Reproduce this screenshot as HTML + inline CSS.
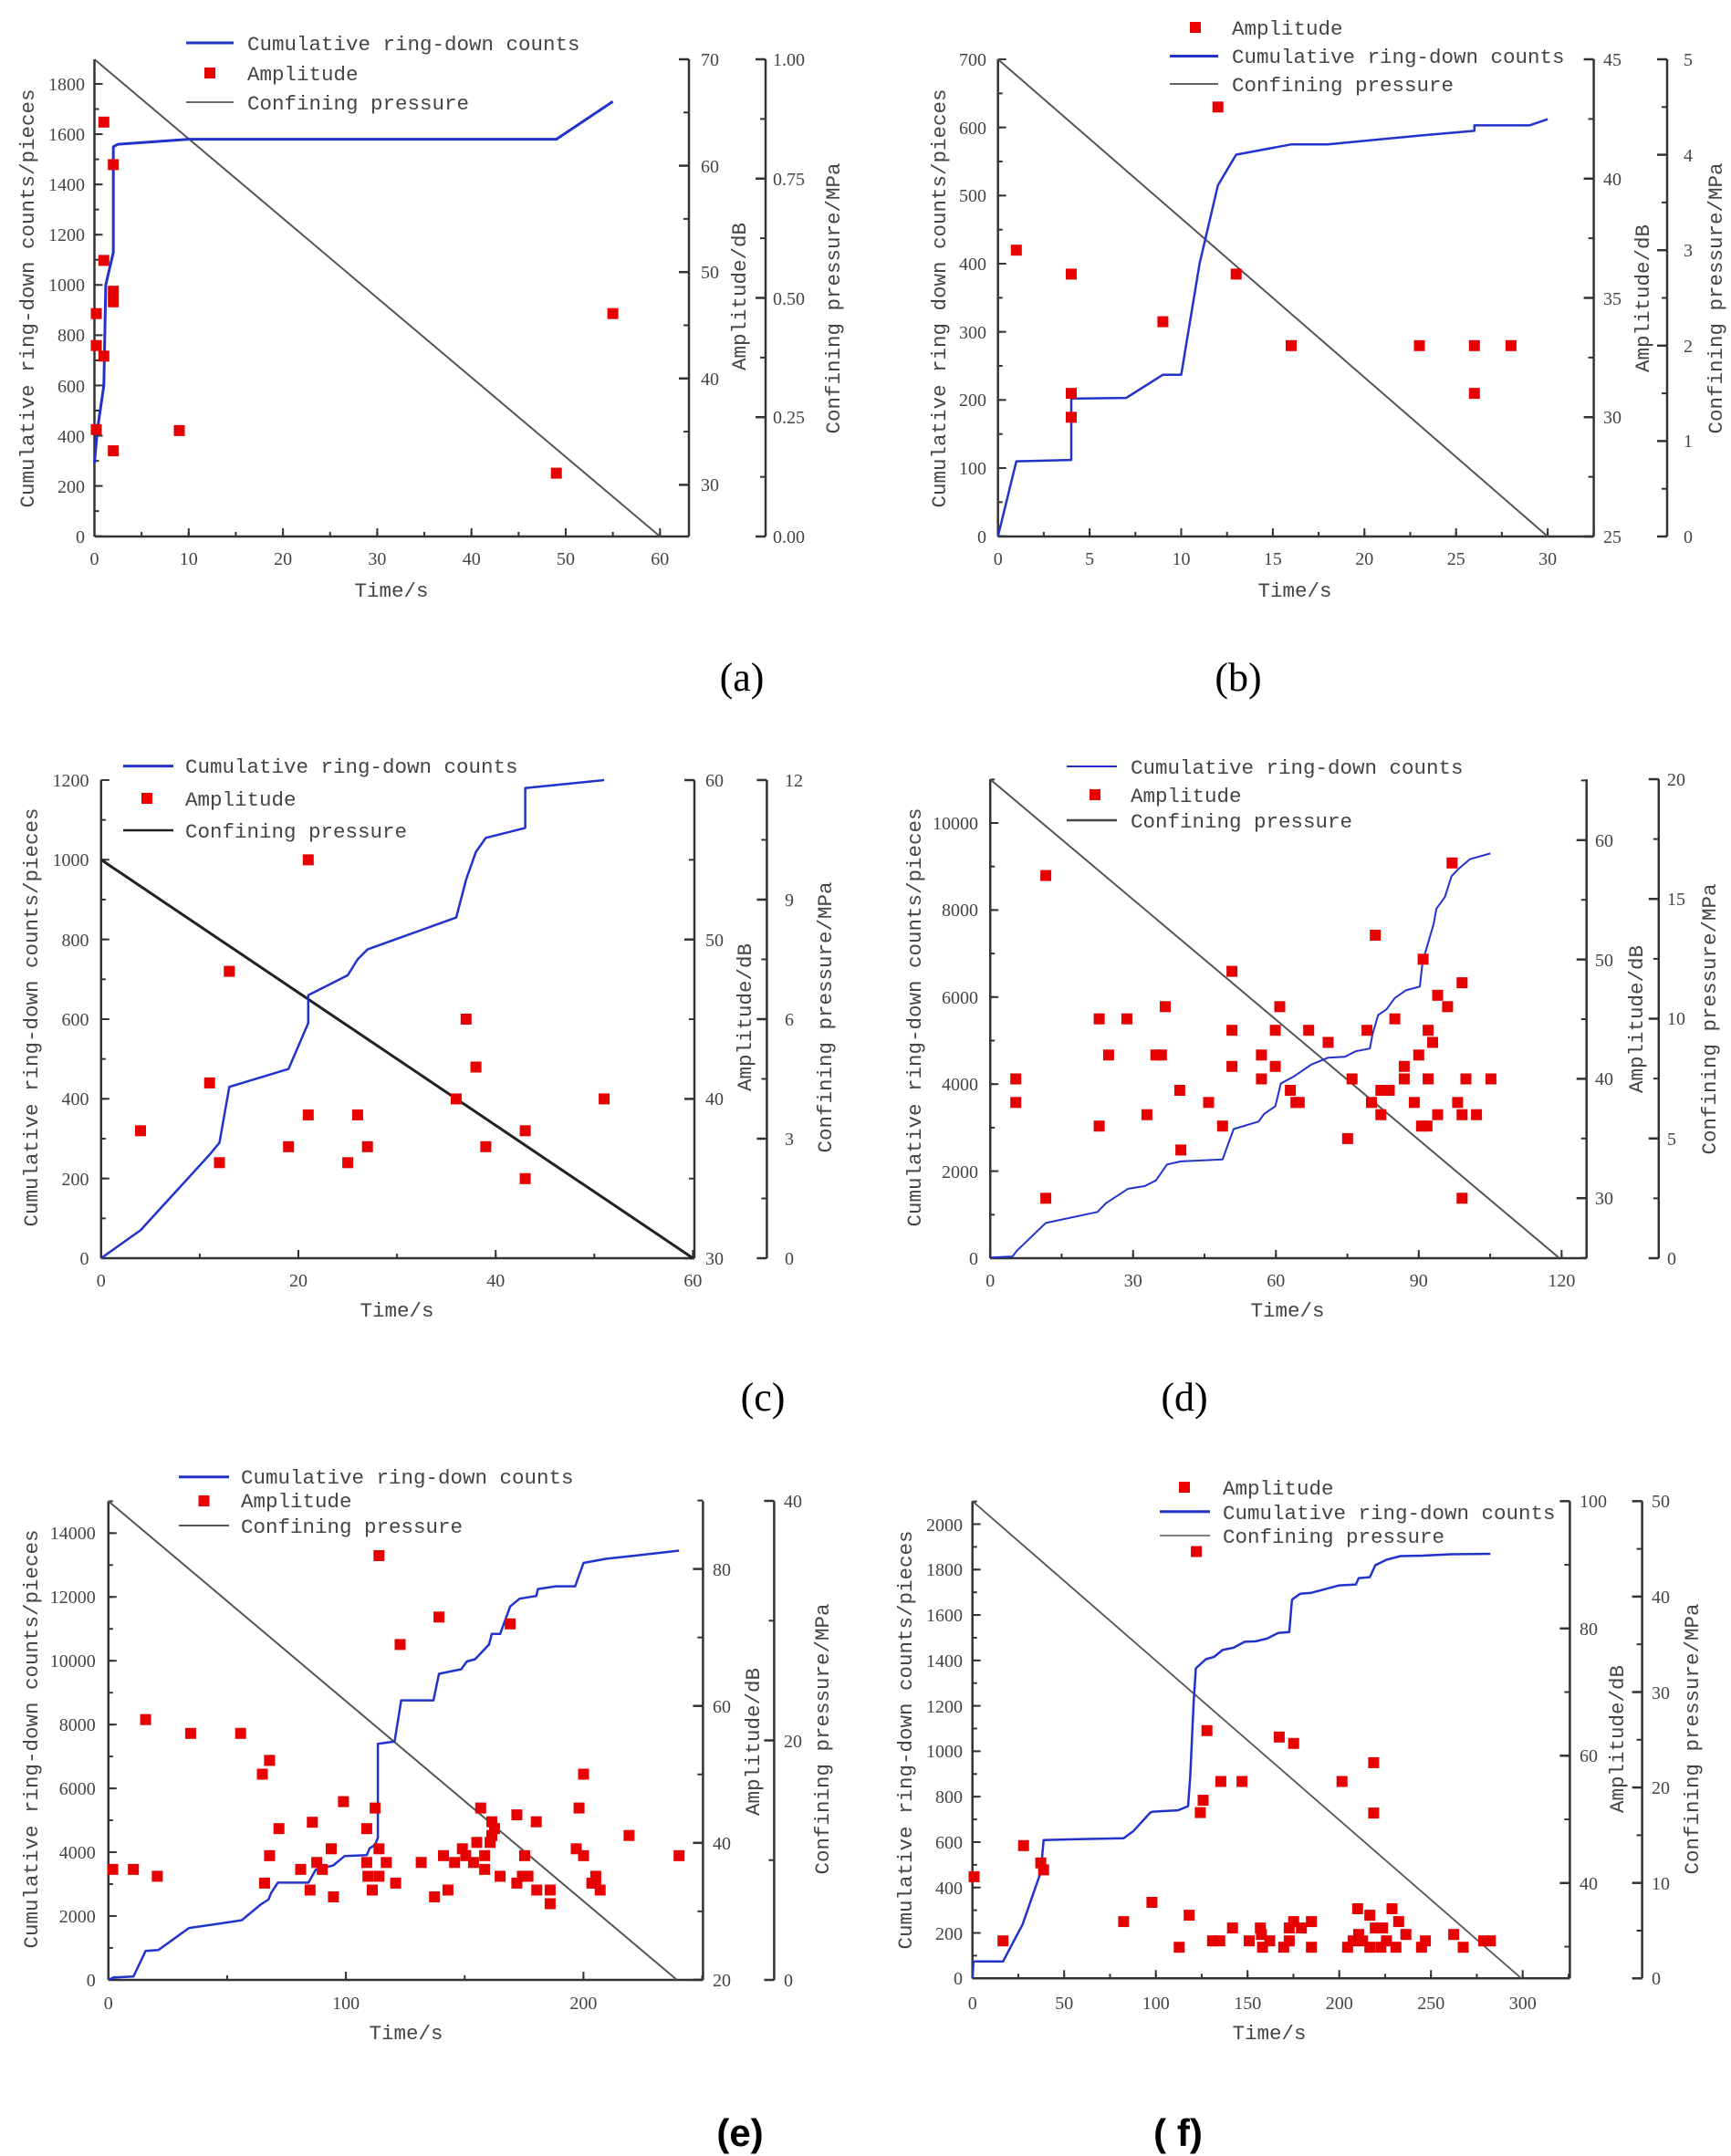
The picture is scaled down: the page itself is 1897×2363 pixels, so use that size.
<!DOCTYPE html>
<html><head><meta charset="utf-8">
<style>
html,body{margin:0;padding:0;background:#fff;}
svg{display:block;}
.t{font-family:"Liberation Serif",serif;font-size:20px;fill:#444;}
.m{font-family:"Liberation Mono",monospace;font-size:22.5px;fill:#444;}
.cap{font-family:"Liberation Serif",serif;font-size:44px;fill:#000;}
.capb{font-family:"Liberation Sans","Noto Sans CJK SC",sans-serif;font-size:42px;font-weight:bold;fill:#000;}
</style></head>
<body>
<svg id="s" width="1897" height="2363" xmlns="http://www.w3.org/2000/svg">
<rect width="1897" height="2363" fill="#fff"/>
<g id="g"></g>

<!-- Panel a text -->
<g class="t" text-anchor="end">
<text x="93" y="595">0</text><text x="93" y="540">200</text><text x="93" y="485">400</text><text x="93" y="430">600</text><text x="93" y="374">800</text><text x="93" y="319">1000</text><text x="93" y="264">1200</text><text x="93" y="209">1400</text><text x="93" y="154">1600</text><text x="93" y="99">1800</text>
</g>
<g class="t" text-anchor="middle">
<text x="103.5" y="619">0</text><text x="206.8" y="619">10</text><text x="310.1" y="619">20</text><text x="413.4" y="619">30</text><text x="516.7" y="619">40</text><text x="620" y="619">50</text><text x="723.3" y="619">60</text>
</g>
<g class="t">
<text x="768" y="72">70</text><text x="768" y="189">60</text><text x="768" y="305">50</text><text x="768" y="422">40</text><text x="768" y="538">30</text>
<text x="847" y="595">0.00</text><text x="847" y="464">0.25</text><text x="847" y="334">0.50</text><text x="847" y="203">0.75</text><text x="847" y="72">1.00</text>
</g>
<g class="m" text-anchor="middle">
<text transform="translate(37,327) rotate(-90)">Cumulative ring-down counts/pieces</text>
<text x="429" y="654">Time/s</text>
<text transform="translate(817,325) rotate(-90)">Amplitude/dB</text>
<text transform="translate(920,327) rotate(-90)">Confining pressure/MPa</text>
</g>
<g class="m"><text x="271" y="55">Cumulative ring-down counts</text><text x="271" y="88">Amplitude</text><text x="271" y="120">Confining pressure</text></g>
<line x1="204" y1="47" x2="256" y2="47" stroke="#2233cc" stroke-width="3"/>
<rect x="224" y="74" width="12" height="12" fill="#e00"/>
<line x1="204" y1="112" x2="256" y2="112" stroke="#666" stroke-width="2"/>
<text class="cap" x="813" y="757" text-anchor="middle">(a)</text>

<!-- Panel b text -->
<g class="t" text-anchor="end">
<text x="1081" y="595">0</text><text x="1081" y="520">100</text><text x="1081" y="445">200</text><text x="1081" y="371">300</text><text x="1081" y="296">400</text><text x="1081" y="221">500</text><text x="1081" y="147">600</text><text x="1081" y="72">700</text>
</g>
<g class="t" text-anchor="middle">
<text x="1093.7" y="619">0</text><text x="1194.1" y="619">5</text><text x="1294.5" y="619">10</text><text x="1394.9" y="619">15</text><text x="1495.3" y="619">20</text><text x="1595.7" y="619">25</text><text x="1696.1" y="619">30</text>
</g>
<g class="t">
<text x="1757" y="595">25</text><text x="1757" y="464">30</text><text x="1757" y="334">35</text><text x="1757" y="203">40</text><text x="1757" y="72">45</text>
<text x="1845" y="595">0</text><text x="1845" y="490">1</text><text x="1845" y="386">2</text><text x="1845" y="281">3</text><text x="1845" y="177">4</text><text x="1845" y="72">5</text>
</g>
<g class="m" text-anchor="middle">
<text transform="translate(1036,327) rotate(-90)">Cumulative ring down counts/pieces</text>
<text x="1419" y="654">Time/s</text>
<text transform="translate(1807,327) rotate(-90)">Amplitude/dB</text>
<text transform="translate(1887,327) rotate(-90)">Confining pressure/MPa</text>
</g>
<g class="m"><text x="1350" y="38">Amplitude</text><text x="1350" y="69">Cumulative ring-down counts</text><text x="1350" y="100">Confining pressure</text></g>
<rect x="1304" y="24" width="12" height="12" fill="#e00"/>
<line x1="1282" y1="61.5" x2="1335" y2="61.5" stroke="#2233cc" stroke-width="3"/>
<line x1="1282" y1="92" x2="1335" y2="92" stroke="#666" stroke-width="2"/>
<text class="cap" x="1357" y="757" text-anchor="middle">(b)</text>

<!-- Panel c text -->
<g class="t" text-anchor="end">
<text x="97.5" y="1386">0</text><text x="97.5" y="1299">200</text><text x="97.5" y="1211">400</text><text x="97.5" y="1124">600</text><text x="97.5" y="1037">800</text><text x="97.5" y="949">1000</text><text x="97.5" y="862">1200</text>
</g>
<g class="t" text-anchor="middle">
<text x="110.8" y="1410">0</text><text x="327" y="1410">20</text><text x="543.2" y="1410">40</text><text x="759.4" y="1410">60</text>
</g>
<g class="t">
<text x="773" y="1386">30</text><text x="773" y="1211">40</text><text x="773" y="1037">50</text><text x="773" y="862">60</text>
<text x="860" y="1386">0</text><text x="860" y="1255">3</text><text x="860" y="1124">6</text><text x="860" y="993">9</text><text x="860" y="862">12</text>
</g>
<g class="m" text-anchor="middle">
<text transform="translate(41,1115) rotate(-90)">Cumulative ring-down counts/pieces</text>
<text x="435" y="1443">Time/s</text>
<text transform="translate(823,1115) rotate(-90)">Amplitude/dB</text>
<text transform="translate(911,1115) rotate(-90)">Confining pressure/MPa</text>
</g>
<g class="m"><text x="203" y="847">Cumulative ring-down counts</text><text x="203" y="883">Amplitude</text><text x="203" y="918">Confining pressure</text></g>
<line x1="135" y1="839.6" x2="190" y2="839.6" stroke="#2233cc" stroke-width="3"/>
<rect x="155" y="869" width="12" height="12" fill="#e00"/>
<line x1="135" y1="910" x2="190" y2="910" stroke="#222" stroke-width="2.5"/>
<text class="cap" x="836" y="1546" text-anchor="middle">(c)</text>

<!-- Panel d text -->
<g class="t" text-anchor="end">
<text x="1072" y="1386">0</text><text x="1072" y="1291">2000</text><text x="1072" y="1195">4000</text><text x="1072" y="1100">6000</text><text x="1072" y="1004">8000</text><text x="1072" y="909">10000</text>
</g>
<g class="t" text-anchor="middle">
<text x="1085.2" y="1410">0</text><text x="1241.7" y="1410">30</text><text x="1398.3" y="1410">60</text><text x="1554.8" y="1410">90</text><text x="1711.4" y="1410">120</text>
</g>
<g class="t">
<text x="1748" y="1320">30</text><text x="1748" y="1189">40</text><text x="1748" y="1059">50</text><text x="1748" y="928">60</text>
<text x="1827" y="1386">0</text><text x="1827" y="1255">5</text><text x="1827" y="1123">10</text><text x="1827" y="992">15</text><text x="1827" y="861">20</text>
</g>
<g class="m" text-anchor="middle">
<text transform="translate(1009,1115) rotate(-90)">Cumulative ring-down counts/pieces</text>
<text x="1411" y="1443">Time/s</text>
<text transform="translate(1800,1117) rotate(-90)">Amplitude/dB</text>
<text transform="translate(1880,1117) rotate(-90)">Confining pressure/MPa</text>
</g>
<g class="m"><text x="1239" y="848">Cumulative ring-down counts</text><text x="1239" y="879">Amplitude</text><text x="1239" y="907">Confining pressure</text></g>
<line x1="1169" y1="840" x2="1224" y2="840" stroke="#2233cc" stroke-width="2"/>
<rect x="1194" y="865" width="12" height="12" fill="#e00"/>
<line x1="1169" y1="899" x2="1224" y2="899" stroke="#444" stroke-width="2.5"/>
<text class="cap" x="1298" y="1546" text-anchor="middle">(d)</text>

<!-- Panel e text -->
<g class="t" text-anchor="end">
<text x="104.7" y="2177">0</text><text x="104.7" y="2107">2000</text><text x="104.7" y="2037">4000</text><text x="104.7" y="1967">6000</text><text x="104.7" y="1897">8000</text><text x="104.7" y="1827">10000</text><text x="104.7" y="1757">12000</text><text x="104.7" y="1687">14000</text>
</g>
<g class="t" text-anchor="middle">
<text x="118.8" y="2202">0</text><text x="379.1" y="2202">100</text><text x="639.4" y="2202">200</text>
</g>
<g class="t">
<text x="781" y="2177">20</text><text x="781" y="2027">40</text><text x="781" y="1877">60</text><text x="781" y="1727">80</text>
<text x="859" y="2177">0</text><text x="859" y="1915">20</text><text x="859" y="1652">40</text>
</g>
<g class="m" text-anchor="middle">
<text transform="translate(41,1906) rotate(-90)">Cumulative ring-down counts/pieces</text>
<text x="445" y="2235">Time/s</text>
<text transform="translate(832,1909) rotate(-90)">Amplitude/dB</text>
<text transform="translate(908,1906) rotate(-90)">Confining pressure/MPa</text>
</g>
<g class="m"><text x="264" y="1626">Cumulative ring-down counts</text><text x="264" y="1652">Amplitude</text><text x="264" y="1680">Confining pressure</text></g>
<line x1="196" y1="1618.7" x2="251" y2="1618.7" stroke="#2233cc" stroke-width="3"/>
<rect x="217.5" y="1639" width="12" height="12" fill="#e00"/>
<line x1="196" y1="1672" x2="251" y2="1672" stroke="#555" stroke-width="2"/>
<text class="capb" x="811" y="2352" text-anchor="middle">(e)</text>

<!-- Panel f text -->
<g class="t" text-anchor="end">
<text x="1055" y="2175">0</text><text x="1055" y="2126">200</text><text x="1055" y="2076">400</text><text x="1055" y="2026">600</text><text x="1055" y="1976">800</text><text x="1055" y="1926">1000</text><text x="1055" y="1877">1200</text><text x="1055" y="1827">1400</text><text x="1055" y="1777">1600</text><text x="1055" y="1727">1800</text><text x="1055" y="1678">2000</text>
</g>
<g class="t" text-anchor="middle">
<text x="1065.7" y="2202">0</text><text x="1166.2" y="2202">50</text><text x="1266.7" y="2202">100</text><text x="1367.2" y="2202">150</text><text x="1467.7" y="2202">200</text><text x="1568.2" y="2202">250</text><text x="1668.7" y="2202">300</text>
</g>
<g class="t">
<text x="1731" y="2071">40</text><text x="1731" y="1931">60</text><text x="1731" y="1792">80</text><text x="1731" y="1652">100</text>
<text x="1810" y="2175">0</text><text x="1810" y="2071">10</text><text x="1810" y="1966">20</text><text x="1810" y="1862">30</text><text x="1810" y="1757">40</text><text x="1810" y="1652">50</text>
</g>
<g class="m" text-anchor="middle">
<text transform="translate(999,1907) rotate(-90)">Cumulative ring-down counts/pieces</text>
<text x="1391" y="2235">Time/s</text>
<text transform="translate(1779,1906) rotate(-90)">Amplitude/dB</text>
<text transform="translate(1861,1906) rotate(-90)">Confining pressure/MPa</text>
</g>
<g class="m"><text x="1340" y="1638">Amplitude</text><text x="1340" y="1665">Cumulative ring-down counts</text><text x="1340" y="1691">Confining pressure</text></g>
<rect x="1292" y="1624" width="12" height="12" fill="#e00"/>
<line x1="1271" y1="1656.8" x2="1326" y2="1656.8" stroke="#2233cc" stroke-width="3"/>
<line x1="1271" y1="1683" x2="1326" y2="1683" stroke="#555" stroke-width="1.5"/>
<text class="capb" x="1291" y="2352" text-anchor="middle">( f)</text>
</svg>
<script>
(function(){
var g=document.getElementById('g'),NS='http://www.w3.org/2000/svg';
function el(n,a){var e=document.createElementNS(NS,n);for(var k in a)e.setAttribute(k,a[k]);g.appendChild(e);return e;}
function rng(a,b,s){var r=[];for(var v=a;v<=b+1e-9;v+=s)r.push(v);return r;}
function line(x1,y1,x2,y2,c,w){el('line',{x1:x1,y1:y1,x2:x2,y2:y2,stroke:c||'#333','stroke-width':w||2.5});}
function poly(pts,c,w){el('polyline',{points:pts.map(function(p){return p[0].toFixed(1)+','+p[1].toFixed(1)}).join(' '),fill:'none',stroke:c,'stroke-width':w,'stroke-linejoin':'round'});}
function sq(x,y){el('rect',{x:(x-6).toFixed(1),y:(y-6).toFixed(1),width:12,height:12,fill:'#e60000'});}
function panel(p){
 var X=p.X,Y=p.Y;
 line(p.L,p.T,p.L,p.B);line(p.L,p.B,p.R,p.B);line(p.R,p.T,p.R,p.B);line(p.C,p.T,p.C,p.B);
 p.xmin.forEach(function(v){var x=X(v);if(x<=p.R)line(x,p.B,x,p.B-5,'#333',2);});
 p.xmaj.forEach(function(v){var x=X(v);line(x,p.B,x,p.B-9,'#333',2);});
 p.ymin.forEach(function(v){var y=Y(v);if(y>=p.T)line(p.L,y,p.L+5,y,'#333',2);});
 p.ymaj.forEach(function(v){var y=Y(v);line(p.L,y,p.L+9,y,'#333',2);});
 p.amin.forEach(function(v){var y=p.A(v);if(y>=p.T-1&&y<=p.B+1)line(p.R,y,p.R-6,y,'#333',2);});
 p.amaj.forEach(function(v){var y=p.A(v);line(p.R,y,p.R-11,y,'#333',2.5);});
 p.cmin.forEach(function(v){var y=p.P(v);if(y>=p.T-1)line(p.C,y,p.C-6,y,'#333',2);});
 p.cmaj.forEach(function(v){var y=p.P(v);line(p.C,y,p.C-11,y,'#333',2.5);});
}
var a={L:103.5,R:755,B:588,T:65,C:839,X:function(t){return 103.5+10.33*t},Y:function(c){return 587.7-0.2754*c},
A:function(d){return 65+(70-d)*11.66},P:function(q){return 588-523*q},
xmaj:rng(0,60,10),xmin:rng(0,60,5),ymaj:rng(0,1800,200),ymin:rng(0,1900,100),amaj:rng(30,70,10),amin:rng(25,70,5),cmaj:rng(0,1,.25),cmin:rng(0,1,.125)};
panel(a);
poly([[a.X(0),a.P(1)],[a.X(60),a.P(0)]],'#555',2);
poly([[0,290],[0.3,420],[1,600],[1.2,1000],[2,1130],[2,1550],[2.5,1560],[10,1580],[49,1580],[55,1730]].map(function(q){return [a.X(q[0]),a.Y(q[1])]}),'#2233cc',3);
[[1,64.1],[2,60.1],[1,51.1],[2,48.2],[2,47.2],[1,42.1],[0,46.1],[0,43.1],[0,35.2],[2,33.2],[9,35.1],[49,31.1],[55,46.1]].forEach(function(q){sq(a.X(q[0])+(q[0]==0?2:0),a.A(q[1]));});
var b={L:1093.7,R:1746.6,B:588,T:65,C:1827,X:function(t){return 1093.7+20.08*t},Y:function(c){return 587.7-0.7467*c},
A:function(d){return 65+(45-d)*26.15},P:function(q){return 588-104.6*q},
xmaj:rng(0,30,5),xmin:rng(0,32.5,2.5),ymaj:rng(0,700,100),ymin:rng(0,700,50),amaj:rng(25,45,5),amin:rng(25,45,2.5),cmaj:rng(0,5,1),cmin:rng(0,5,.5)};
panel(b);
poly([[b.X(0),b.P(5)],[b.X(30),b.P(0)]],'#555',2);
poly([[0,0],[1,110],[4,112],[4,202],[7,203],[9,237],[10,237],[11,400],[12,515],[13,560],[16,575],[18,575],[23,588],[26,595],[26,603],[29,603],[30,612]].map(function(q){return [b.X(q[0]),b.Y(q[1])]}),'#2233cc',2.5);
[[1,37],[4,36],[4,31],[4,30],[9,34],[12,43],[13,36],[16,33],[23,33],[26,33],[26,31],[28,33]].forEach(function(q){sq(b.X(q[0]),b.A(q[1]));});
var c={L:110.8,R:761,B:1379,T:855,C:840.4,X:function(t){return 110.8+10.81*t},Y:function(v){return 1379-0.4367*v},
A:function(d){return 855+(60-d)*17.47},P:function(q){return 1379-43.67*q},
xmaj:rng(0,60,20),xmin:rng(0,60,10),ymaj:rng(0,1200,200),ymin:rng(0,1200,100),amaj:rng(30,60,10),amin:rng(30,60,5),cmaj:rng(0,12,3),cmin:rng(0,12,1.5)};
panel(c);
poly([[c.X(0),c.P(10)],[c.X(60),c.P(0)]],'#222',3);
poly([[0,0],[4,70],[11,260],[12,290],[13,430],[19,475],[21,590],[21,660],[25,710],[26,750],[27,775],[36,855],[37,950],[38,1020],[39,1055],[43,1080],[43,1180],[51,1200]].map(function(q){return [c.X(q[0]),c.Y(q[1])]}),'#2233cc',2.5);
[[4,38],[11,41],[12,36],[13,48],[19,37],[21,55],[21,39],[25,36],[26,39],[27,37],[36,40],[37,45],[38,42],[39,37],[43,38],[43,35],[51,40]].forEach(function(q){sq(c.X(q[0]),c.A(q[1]));});
var d={L:1085.2,R:1738.7,B:1379,T:854,C:1817.8,X:function(t){return 1085.2+5.218*t},Y:function(v){return 1379-0.0477*v},
A:function(q){return 920.8+(60-q)*13.08},P:function(q){return 1379-26.25*q},
xmaj:rng(0,120,30),xmin:rng(0,120,15),ymaj:rng(0,10000,2000),ymin:rng(0,11000,1000),amaj:rng(30,60,10),amin:rng(25,65,5),cmaj:rng(0,20,5),cmin:rng(0,20,2.5)};
panel(d);
function zd(p){return [950+p[0]/1.642,800+p[1]/2.4];}
poly([[222,130],[1245,1388]].map(zd),'#555',2);
poly([[222,1388],[262,1385],[270,1370],[322,1297],[415,1268],[430,1245],[470,1207],[500,1200],[520,1185],[540,1143],[565,1135],[640,1130],[660,1050],[705,1030],[715,1010],[735,990],[745,930],[770,910],[800,880],[830,862],[860,860],[880,845],[905,838],[910,800],[920,750],[935,735],[950,705],[970,685],[995,675],[1000,610],[1010,560],[1020,510],[1025,470],[1040,440],[1052,385],[1065,365],[1085,340],[1122,325]].map(zd),'#2233cc',2);
[[268,918],[268,980],[322,383],[322,1232],[418,760],[418,1042],[435,855],[468,760],[504,1012],[520,855],[530,855],[537,728],[563,948],[565,1105],[615,980],[640,1042],[657,635],[657,790],[657,885],[710,855],[710,918],[735,885],[735,790],[743,728],[762,948],[772,980],[778,980],[795,790],[830,822],[865,1075],[873,918],[900,790],[908,980],[915,540],[925,948],[925,1012],[940,948],[950,760],[967,885],[967,918],[985,980],[993,855],[998,1042],[1008,1042],[1001,603],[1010,790],[1010,918],[1018,822],[1027,698],[1027,1012],[1045,728],[1053,350],[1063,980],[1071,665],[1071,1012],[1071,1232],[1078,918],[1097,1012],[1123,918]].forEach(function(q){var p=zd(q);sq(p[0],p[1]);});
var e={L:118.8,R:770.4,B:2170,T:1645.3,C:848.4,X:function(t){return 118.8+2.603*t},Y:function(v){return 2169.9-0.03497*v},
A:function(q){return 1719.6+(80-q)*7.505},P:function(q){return 2170-13.125*q},
xmaj:rng(0,200,100),xmin:rng(0,250,50),ymaj:rng(0,14000,2000),ymin:rng(0,15000,1000),amaj:rng(20,80,20),amin:rng(20,90,10),cmaj:rng(0,40,20),cmin:rng(0,40,10)};
panel(e);
function ze(p){return [p[0]/1.642,1580+p[1]/1.992];}
poly([[195,130],[1218,1175]].map(ze),'#555',2);
poly([[195,1175],[205,1170],[240,1168],[262,1112],[285,1110],[340,1062],[380,1055],[435,1045],[470,1010],[483,1000],[488,985],[500,963],[555,963],[568,935],[600,925],[620,905],[660,903],[665,888],[675,880],[680,865],[680,660],[710,655],[722,565],[780,565],[790,507],[830,497],[840,480],[855,475],[880,443],[885,420],[900,420],[918,360],[935,343],[965,337],[968,322],[1000,316],[1035,316],[1050,265],[1090,256],[1150,248],[1222,238]].map(ze),'#2233cc',2.5);
[[203,934],[240,934],[283,949],[262,607],[343,637],[433,637],[472,726],[485,696],[476,964],[485,904],[502,845],[541,934],[558,979],[562,831],[570,919],[580,934],[596,889],[600,994],[618,786],[660,845],[660,919],[662,949],[670,979],[675,800],[682,889],[682,949],[695,919],[682,249],[712,964],[720,443],[758,919],[782,994],[790,383],[798,904],[806,979],[818,919],[832,889],[838,904],[852,919],[858,875],[865,800],[872,904],[872,934],[885,830],[885,860],[882,875],[890,845],[900,949],[930,815],[930,964],[940,949],[944,904],[950,949],[965,830],[966,979],[918,398],[990,979],[990,1009],[1037,889],[1042,800],[1050,726],[1050,904],[1065,964],[1072,949],[1072,964],[1080,979],[1132,860],[1222,904]].forEach(function(q){var p=ze(q);sq(p[0],p[1]);});
var f={L:1065.7,R:1720.4,B:2168.3,T:1645.3,C:1799.6,X:function(t){return 1065.7+2.01*t},Y:function(v){return 2168.3-0.2489*v},
A:function(q){return 1645.3+(100-q)*6.975},P:function(q){return 2168.3-10.46*q},
xmaj:rng(0,300,50),xmin:rng(0,325,25),ymaj:rng(0,2000,200),ymin:rng(0,2100,100),amaj:rng(40,100,20),amin:rng(30,100,10),cmaj:rng(0,50,10),cmin:rng(0,50,5)};
panel(f);
function zf(p){return [950+p[0]/1.642,1580+p[1]/1.992];}
poly([[190,130],[1178,1172]].map(zf),'#555',1.8);
poly([[190,1172],[192,1135],[245,1135],[280,1055],[300,985],[313,940],[318,870],[380,868],[462,866],[480,850],[510,810],[515,808],[560,805],[578,796],[582,730],[588,570],[592,495],[610,475],[625,470],[640,455],[660,450],[680,437],[700,436],[720,430],[740,418],[760,416],[765,345],[780,332],[800,330],[850,314],[880,312],[885,298],[905,296],[915,270],[935,258],[960,250],[1000,249],[1050,246],[1122,245]].map(zf),'#2233cc',2.5);
[[193,950],[245,1090],[282,882],[313,920],[318,935],[593,240],[462,1048],[513,1006],[580,1034],[562,1104],[600,810],[605,783],[612,631],[622,1090],[635,1090],[637,742],[658,1062],[675,742],[688,1090],[708,1062],[710,1076],[712,1104],[725,1090],[742,645],[750,1104],[760,1090],[768,659],[760,1062],[768,1048],[782,1062],[800,1048],[800,1104],[855,742],[865,1104],[875,1090],[883,1020],[885,1076],[892,1090],[905,1034],[912,701],[912,811],[905,1104],[915,1062],[925,1104],[928,1062],[935,1090],[945,1020],[952,1104],[957,1048],[970,1076],[998,1104],[1005,1090],[1056,1076],[1073,1104],[1110,1090],[1122,1090]].forEach(function(q){var p=zf(q);sq(p[0],p[1]);});
})();
</script>
</body></html>
